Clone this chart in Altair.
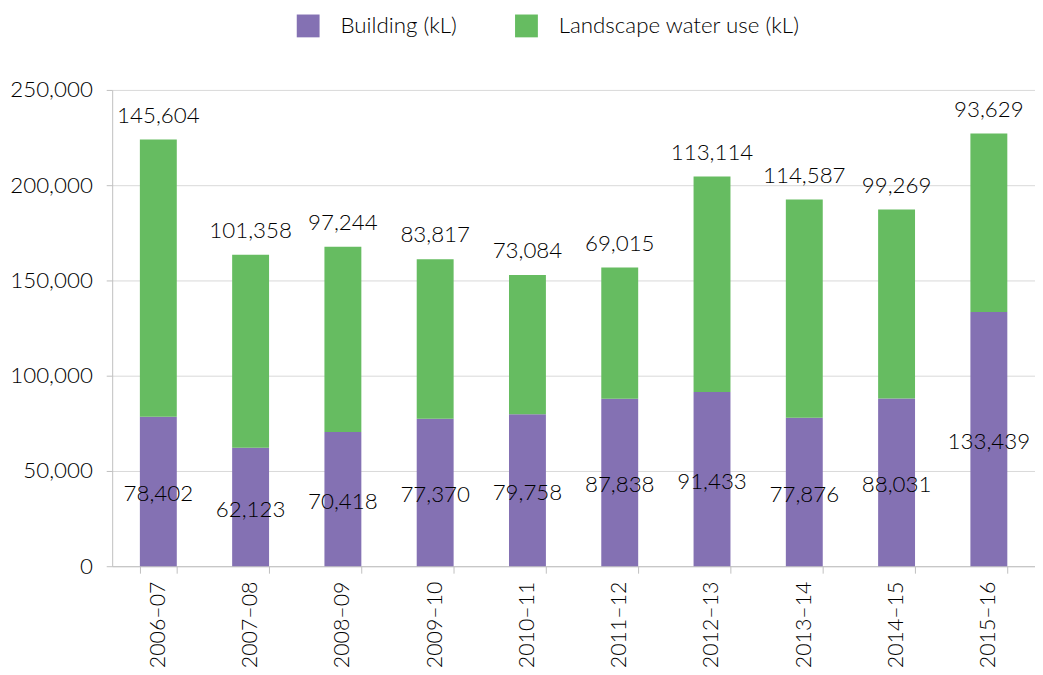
import altair as alt
import pandas as pd

years = ["2006–07", "2007–08", "2008–09", "2009–10", "2010–11",
         "2011–12", "2012–13", "2013–14", "2014–15", "2015–16"]
building = [78402, 62123, 70418, 77370, 79758, 87838, 91433, 77876, 88031, 133439]
landscape = [145604, 101358, 97244, 83817, 73084, 69015, 113114, 114587, 99269, 93629]
series = ["Building (kL)", "Landscape water use (kL)"]
colors = ["#8471B3", "#66BC61"]
y_ticks = [0, 50000, 100000, 150000, 200000, 250000]

FONT = "Lato"

long_df = pd.DataFrame({
    "year": years * 2,
    "series": [series[0]] * len(years) + [series[1]] * len(years),
    "value": building + landscape,
    "order": [0] * len(years) + [1] * len(years),
})
wide_df = pd.DataFrame({"year": years, "building": building, "landscape": landscape})

x_enc = alt.X(
    "year:N", sort=years, title=None,
    scale=alt.Scale(paddingInner=0.6, paddingOuter=0.3),
    axis=alt.Axis(labelAngle=270, labelFont=FONT, labelFontSize=21.5, labelFontWeight=300,
                  labelColor="#000000", labelPadding=8, tickBand="extent", tickSize=7,
                  tickColor="#BFBFBF", domainColor="#BFBFBF", grid=False),
)

bars = alt.Chart(long_df).mark_bar().encode(
    x=x_enc,
    y=alt.Y("value:Q", stack="zero", title=None,
            scale=alt.Scale(domain=[0, 250000], nice=False),
            axis=alt.Axis(values=y_ticks, format=",d", labelFont=FONT, labelFontSize=22.5,
                          labelFontWeight=300, labelColor="#000000", labelPadding=14,
                          tickSize=6, tickColor="#BFBFBF", domainColor="#BFBFBF",
                          gridColor="#D9D9D9")),
    color=alt.Color("series:N", scale=alt.Scale(domain=series, range=colors),
                    legend=alt.Legend(title=None, orient="none", direction="horizontal",
                                      legendX=186, legendY=-76, symbolType="square",
                                      symbolSize=529, symbolStrokeWidth=0, labelFont=FONT,
                                      labelFontSize=22.5, labelFontWeight=300, labelLimit=0,
                                      labelColor="#000000", labelOffset=21,
                                      columnPadding=58)),
    order=alt.Order("order:Q"),
)

base_text = alt.Chart(wide_df).transform_calculate(
    mid="datum.building / 2", total="datum.building + datum.landscape"
)

build_labels = base_text.mark_text(font=FONT, fontSize=22.5, fontWeight=300, color="#000000",
                                   baseline="middle", dy=3).encode(
    x=alt.X("year:N", sort=years),
    y=alt.Y("mid:Q"),
    text=alt.Text("building:Q", format=",d"),
)

land_labels = base_text.mark_text(font=FONT, fontSize=22.5, fontWeight=300, color="#000000",
                                  baseline="middle", dy=-24).encode(
    x=alt.X("year:N", sort=years),
    y=alt.Y("total:Q"),
    text=alt.Text("landscape:Q", format=",d"),
)

chart = alt.layer(bars, build_labels, land_labels).properties(
    width=930, height=480,
    autosize=alt.AutoSizeParams(type="none"),
    padding={"left": 105, "top": 80, "right": 0, "bottom": 99},
).configure_view(stroke=None)

chart.save("out.html", embed_options={"renderer": "svg", "actions": False})
